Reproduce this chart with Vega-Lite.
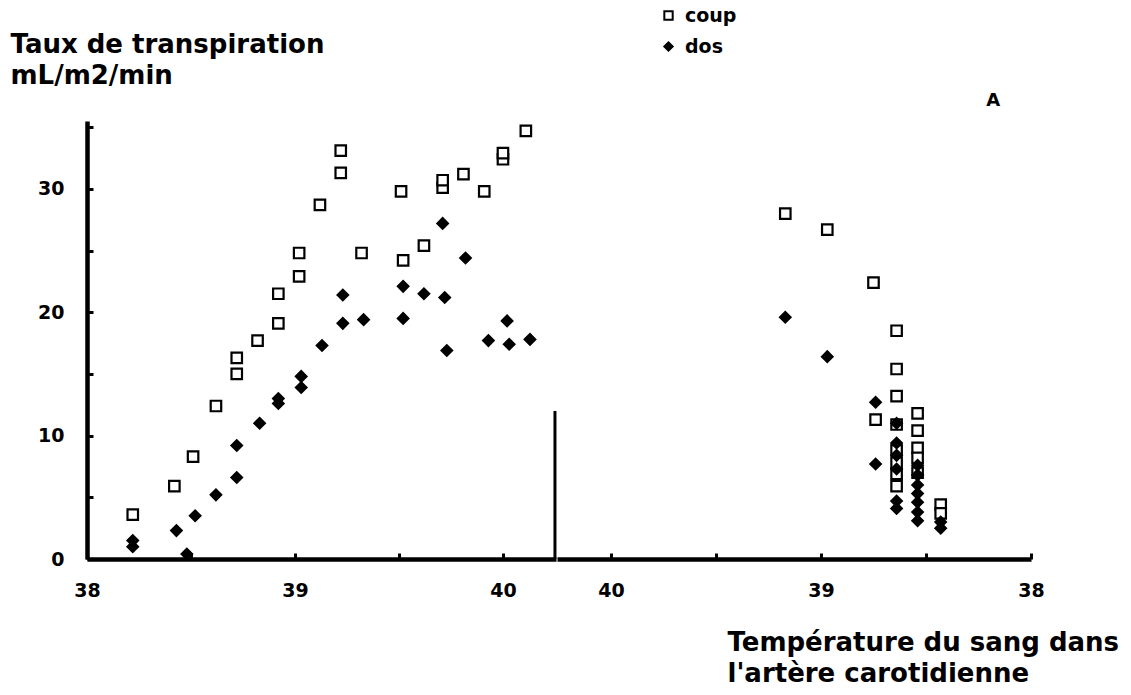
{
  "$schema": "https://vega.github.io/schema/vega-lite/v6.json",
  "background": "white",
  "padding": {"left": 10, "top": 6, "right": 0, "bottom": 0},
  "datasets": {
    "points": [
      {"phase": "montée", "serie": "coup", "temperature": 38.22, "taux": 3.6},
      {"phase": "montée", "serie": "coup", "temperature": 38.42, "taux": 5.9},
      {"phase": "montée", "serie": "coup", "temperature": 38.51, "taux": 8.3},
      {"phase": "montée", "serie": "coup", "temperature": 38.62, "taux": 12.4},
      {"phase": "montée", "serie": "coup", "temperature": 38.72, "taux": 15.0},
      {"phase": "montée", "serie": "coup", "temperature": 38.72, "taux": 16.3},
      {"phase": "montée", "serie": "coup", "temperature": 38.82, "taux": 17.7},
      {"phase": "montée", "serie": "coup", "temperature": 38.92, "taux": 19.1},
      {"phase": "montée", "serie": "coup", "temperature": 38.92, "taux": 21.5},
      {"phase": "montée", "serie": "coup", "temperature": 39.02, "taux": 22.9},
      {"phase": "montée", "serie": "coup", "temperature": 39.02, "taux": 24.8},
      {"phase": "montée", "serie": "coup", "temperature": 39.12, "taux": 28.7},
      {"phase": "montée", "serie": "coup", "temperature": 39.22, "taux": 31.3},
      {"phase": "montée", "serie": "coup", "temperature": 39.22, "taux": 33.1},
      {"phase": "montée", "serie": "coup", "temperature": 39.32, "taux": 24.8},
      {"phase": "montée", "serie": "coup", "temperature": 39.51, "taux": 29.8},
      {"phase": "montée", "serie": "coup", "temperature": 39.52, "taux": 24.2},
      {"phase": "montée", "serie": "coup", "temperature": 39.62, "taux": 25.4},
      {"phase": "montée", "serie": "coup", "temperature": 39.71, "taux": 30.1},
      {"phase": "montée", "serie": "coup", "temperature": 39.71, "taux": 30.7},
      {"phase": "montée", "serie": "coup", "temperature": 39.81, "taux": 31.2},
      {"phase": "montée", "serie": "coup", "temperature": 39.91, "taux": 29.8},
      {"phase": "montée", "serie": "coup", "temperature": 40.0, "taux": 32.4},
      {"phase": "montée", "serie": "coup", "temperature": 40.0, "taux": 32.9},
      {"phase": "montée", "serie": "coup", "temperature": 40.11, "taux": 34.7},
      {"phase": "montée", "serie": "dos", "temperature": 38.22, "taux": 1.0},
      {"phase": "montée", "serie": "dos", "temperature": 38.22, "taux": 1.5},
      {"phase": "montée", "serie": "dos", "temperature": 38.43, "taux": 2.3},
      {"phase": "montée", "serie": "dos", "temperature": 38.48, "taux": 0.4},
      {"phase": "montée", "serie": "dos", "temperature": 38.52, "taux": 3.5},
      {"phase": "montée", "serie": "dos", "temperature": 38.62, "taux": 5.2},
      {"phase": "montée", "serie": "dos", "temperature": 38.72, "taux": 6.6},
      {"phase": "montée", "serie": "dos", "temperature": 38.72, "taux": 9.2},
      {"phase": "montée", "serie": "dos", "temperature": 38.83, "taux": 11.0},
      {"phase": "montée", "serie": "dos", "temperature": 38.92, "taux": 12.6},
      {"phase": "montée", "serie": "dos", "temperature": 38.92, "taux": 13.0},
      {"phase": "montée", "serie": "dos", "temperature": 39.03, "taux": 13.9},
      {"phase": "montée", "serie": "dos", "temperature": 39.03, "taux": 14.8},
      {"phase": "montée", "serie": "dos", "temperature": 39.13, "taux": 17.3},
      {"phase": "montée", "serie": "dos", "temperature": 39.23, "taux": 19.1},
      {"phase": "montée", "serie": "dos", "temperature": 39.23, "taux": 21.4},
      {"phase": "montée", "serie": "dos", "temperature": 39.33, "taux": 19.4},
      {"phase": "montée", "serie": "dos", "temperature": 39.52, "taux": 19.5},
      {"phase": "montée", "serie": "dos", "temperature": 39.52, "taux": 22.1},
      {"phase": "montée", "serie": "dos", "temperature": 39.62, "taux": 21.5},
      {"phase": "montée", "serie": "dos", "temperature": 39.72, "taux": 21.2},
      {"phase": "montée", "serie": "dos", "temperature": 39.73, "taux": 16.9},
      {"phase": "montée", "serie": "dos", "temperature": 39.71, "taux": 27.2},
      {"phase": "montée", "serie": "dos", "temperature": 39.82, "taux": 24.4},
      {"phase": "montée", "serie": "dos", "temperature": 39.93, "taux": 17.7},
      {"phase": "montée", "serie": "dos", "temperature": 40.02, "taux": 19.3},
      {"phase": "montée", "serie": "dos", "temperature": 40.03, "taux": 17.4},
      {"phase": "montée", "serie": "dos", "temperature": 40.13, "taux": 17.8},
      {"phase": "descente", "serie": "coup", "temperature": 39.17, "taux": 28.0},
      {"phase": "descente", "serie": "coup", "temperature": 38.97, "taux": 26.7},
      {"phase": "descente", "serie": "coup", "temperature": 38.75, "taux": 22.4},
      {"phase": "descente", "serie": "coup", "temperature": 38.64, "taux": 18.5},
      {"phase": "descente", "serie": "coup", "temperature": 38.64, "taux": 15.4},
      {"phase": "descente", "serie": "coup", "temperature": 38.64, "taux": 13.2},
      {"phase": "descente", "serie": "coup", "temperature": 38.74, "taux": 11.3},
      {"phase": "descente", "serie": "coup", "temperature": 38.64, "taux": 10.9},
      {"phase": "descente", "serie": "coup", "temperature": 38.64, "taux": 8.8},
      {"phase": "descente", "serie": "coup", "temperature": 38.64, "taux": 7.8},
      {"phase": "descente", "serie": "coup", "temperature": 38.64, "taux": 6.9},
      {"phase": "descente", "serie": "coup", "temperature": 38.64, "taux": 5.9},
      {"phase": "descente", "serie": "coup", "temperature": 38.54, "taux": 11.8},
      {"phase": "descente", "serie": "coup", "temperature": 38.54, "taux": 10.4},
      {"phase": "descente", "serie": "coup", "temperature": 38.54, "taux": 9.0},
      {"phase": "descente", "serie": "coup", "temperature": 38.54, "taux": 8.2},
      {"phase": "descente", "serie": "coup", "temperature": 38.54, "taux": 7.0},
      {"phase": "descente", "serie": "coup", "temperature": 38.43, "taux": 4.4},
      {"phase": "descente", "serie": "coup", "temperature": 38.43, "taux": 3.7},
      {"phase": "descente", "serie": "dos", "temperature": 39.17, "taux": 19.6},
      {"phase": "descente", "serie": "dos", "temperature": 38.97, "taux": 16.4},
      {"phase": "descente", "serie": "dos", "temperature": 38.74, "taux": 12.7},
      {"phase": "descente", "serie": "dos", "temperature": 38.74, "taux": 7.7},
      {"phase": "descente", "serie": "dos", "temperature": 38.64, "taux": 11.0},
      {"phase": "descente", "serie": "dos", "temperature": 38.64, "taux": 9.4},
      {"phase": "descente", "serie": "dos", "temperature": 38.64, "taux": 8.4},
      {"phase": "descente", "serie": "dos", "temperature": 38.64, "taux": 7.3},
      {"phase": "descente", "serie": "dos", "temperature": 38.64, "taux": 4.7},
      {"phase": "descente", "serie": "dos", "temperature": 38.64, "taux": 4.1},
      {"phase": "descente", "serie": "dos", "temperature": 38.54, "taux": 7.6},
      {"phase": "descente", "serie": "dos", "temperature": 38.54, "taux": 6.8},
      {"phase": "descente", "serie": "dos", "temperature": 38.54, "taux": 6.0},
      {"phase": "descente", "serie": "dos", "temperature": 38.54, "taux": 5.3},
      {"phase": "descente", "serie": "dos", "temperature": 38.54, "taux": 4.6},
      {"phase": "descente", "serie": "dos", "temperature": 38.54, "taux": 3.8},
      {"phase": "descente", "serie": "dos", "temperature": 38.54, "taux": 3.1},
      {"phase": "descente", "serie": "dos", "temperature": 38.43, "taux": 3.0},
      {"phase": "descente", "serie": "dos", "temperature": 38.43, "taux": 2.5}
    ],
    "separateur": [{"temperature": 40.25, "taux": 12}],
    "lettre": [{"temperature": 38.18, "taux": 37.1, "texte": "A"}]
  },
  "spacing": 0,
  "resolve": {
    "scale": {"shape": "shared", "fill": "shared", "stroke": "shared"},
    "legend": {"shape": "shared", "fill": "shared", "stroke": "shared"}
  },
  "hconcat": [
    {
      "width": 469,
      "height": 438,
      "layer": [
        {
          "data": {"name": "points"},
          "transform": [{"filter": "datum.phase === 'montée'"}],
          "mark": {"type": "point", "filled": true, "strokeWidth": 2.2, "opacity": 1, "size": 110},
          "encoding": {
            "x": {
              "field": "temperature", "type": "quantitative",
              "scale": {"domain": [38, 40.255], "nice": false, "zero": false},
              "axis": {
                "values": [38, 38.5, 39, 39.5, 40],
                "labelExpr": "datum.value % 1 === 0 ? format(datum.value, 'd') : ''",
                "labelFlush": false,
                "title": null
              }
            },
            "y": {
              "field": "taux", "type": "quantitative",
              "scale": {"domain": [0, 35.5], "nice": false, "zero": true},
              "axis": {
                "values": [0, 5, 10, 15, 20, 25, 30, 35],
                "labelExpr": "datum.value % 10 === 0 ? format(datum.value, 'd') : ''",
                "title": ["Taux de transpiration", "mL/m2/min"],
                "titleAngle": 0,
                "titleAlign": "left",
                "titleBaseline": "top",
                "titleX": -77,
                "titleY": -90,
                "titleLineHeight": 31,
                "titleFontSize": 26,
                "titleFontWeight": "bold",
                "titleFont": "DejaVu Sans",
                "titleColor": "black"
              }
            },
            "shape": {"field": "serie", "type": "nominal", "scale": {"domain": ["coup", "dos"], "range": ["square", "diamond"]}, "title": null},
            "fill": {"field": "serie", "type": "nominal", "scale": {"domain": ["coup", "dos"], "range": ["white", "black"]}, "title": null},
            "stroke": {"field": "serie", "type": "nominal", "scale": {"domain": ["coup", "dos"], "range": ["black", "black"]}, "title": null}
          }
        },
        {
          "data": {"name": "separateur"},
          "mark": {"type": "rule", "strokeWidth": 3, "color": "black"},
          "encoding": {
            "x": {"field": "temperature", "type": "quantitative"},
            "y": {"field": "taux", "type": "quantitative"},
            "y2": {"datum": 0}
          }
        }
      ]
    },
    {
      "width": 474,
      "height": 438,
      "layer": [
        {
          "data": {"name": "points"},
          "transform": [{"filter": "datum.phase === 'descente'"}],
          "mark": {"type": "point", "filled": true, "strokeWidth": 2.2, "opacity": 1, "size": 110},
          "encoding": {
            "x": {
              "field": "temperature", "type": "quantitative",
              "scale": {"domain": [38, 40.257], "nice": false, "zero": false, "reverse": true},
              "axis": {
                "values": [38, 38.5, 39, 39.5, 40],
                "labelExpr": "datum.value % 1 === 0 ? format(datum.value, 'd') : ''",
                "labelFlush": false,
                "title": ["Température du sang dans", "l'artère carotidienne"],
                "titleAlign": "left",
                "titleBaseline": "top",
                "titleAnchor": null,
                "titleX": 170,
                "titleY": 70,
                "titleLineHeight": 31,
                "titleFontSize": 26,
                "titleFontWeight": "bold",
                "titleFont": "DejaVu Sans",
                "titleColor": "black"
              }
            },
            "y": {
              "field": "taux", "type": "quantitative",
              "scale": {"domain": [0, 35.5], "nice": false, "zero": true},
              "axis": null
            },
            "shape": {"field": "serie", "type": "nominal", "scale": {"domain": ["coup", "dos"], "range": ["square", "diamond"]}, "title": null},
            "fill": {"field": "serie", "type": "nominal", "scale": {"domain": ["coup", "dos"], "range": ["white", "black"]}, "title": null},
            "stroke": {"field": "serie", "type": "nominal", "scale": {"domain": ["coup", "dos"], "range": ["black", "black"]}, "title": null}
          }
        },
        {
          "data": {"name": "lettre"},
          "mark": {"type": "text", "font": "DejaVu Sans", "fontWeight": "bold", "fontSize": 18, "color": "black"},
          "encoding": {
            "x": {"field": "temperature", "type": "quantitative"},
            "y": {"field": "taux", "type": "quantitative"},
            "text": {"field": "texte"}
          }
        }
      ]
    }
  ],
  "config": {
    "view": {"stroke": null},
    "font": "DejaVu Sans",
    "axis": {
      "domainColor": "black",
      "domainWidth": 4.5,
      "tickColor": "black",
      "tickWidth": 3,
      "tickSize": -6,
      "labelFont": "DejaVu Sans",
      "labelFontSize": 19,
      "labelFontWeight": "bold",
      "labelColor": "black",
      "grid": false
    },
    "axisX": {"labelPadding": 28},
    "axisY": {"labelPadding": 29},
    "legend": {
      "orient": "none",
      "legendX": 572,
      "legendY": -115,
      "labelFont": "DejaVu Sans",
      "labelFontSize": 19,
      "labelFontWeight": "bold",
      "labelColor": "black",
      "symbolSize": 70,
      "symbolStrokeWidth": 2,
      "rowPadding": 11,
      "labelOffset": 7
    }
  }
}
